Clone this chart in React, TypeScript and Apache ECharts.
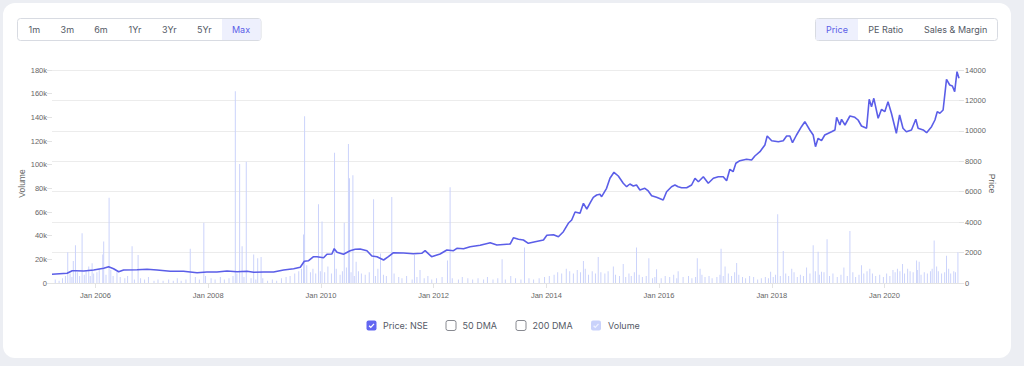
import React, { useEffect, useRef } from "react";
import * as echarts from "echarts";

// ---------- DATA ----------
const rangeButtons = ["1m", "3m", "6m", "1Yr", "3Yr", "5Yr", "Max"];
const metricButtons = ["Price", "PE Ratio", "Sales & Margin"];
const legendItems = ["Price: NSE", "50 DMA", "200 DMA", "Volume"];
const xTickYears = [2006, 2008, 2010, 2012, 2014, 2016, 2018, 2020];
const xMin = "2005-03-25";
const xMax = "2021-04-28";

const volumeTicks = { min: 0, max: 180000, interval: 20000 };
const priceTicks = { min: 0, max: 14000, interval: 2000 };

const priceNSE: [string, number][] = [
  ["2005-03-25", 572], ["2005-07-01", 638], ["2005-08-03", 808], ["2005-08-24", 808],
  ["2005-10-17", 789], ["2005-12-20", 854], ["2006-02-23", 966], ["2006-03-27", 1071],
  ["2006-04-28", 940], ["2006-05-31", 743], ["2006-07-02", 854], ["2006-09-27", 874],
  ["2006-12-01", 900], ["2007-02-04", 854], ["2007-04-30", 769], ["2007-07-25", 769],
  ["2007-10-21", 677], ["2007-12-24", 723], ["2008-02-27", 723], ["2008-05-02", 789],
  ["2008-07-06", 743], ["2008-09-09", 769], ["2008-10-22", 703], ["2008-12-26", 723],
  ["2009-02-28", 723], ["2009-05-04", 854], ["2009-07-08", 940], ["2009-08-20", 1032],
  ["2009-09-15", 1426], ["2009-10-13", 1466], ["2009-11-14", 1729], ["2009-12-06", 1729],
  ["2010-01-18", 1663], ["2010-02-09", 1886], ["2010-03-13", 1906], ["2010-03-28", 2255],
  ["2010-04-15", 2018], ["2010-05-27", 1886], ["2010-07-09", 2123], ["2010-08-11", 2215],
  ["2010-09-12", 2235], ["2010-10-26", 2123], ["2010-11-27", 1775], ["2010-12-30", 1729],
  ["2011-02-11", 1512], ["2011-03-14", 1729], ["2011-04-16", 1992], ["2011-06-20", 1972],
  ["2011-08-23", 1926], ["2011-10-16", 1952], ["2011-11-07", 2123], ["2011-12-19", 1729],
  ["2012-02-12", 1906], ["2012-03-27", 2169], ["2012-05-09", 2123], ["2012-05-31", 2281],
  ["2012-07-13", 2255], ["2012-08-25", 2386], ["2012-10-29", 2478], ["2013-01-02", 2649],
  ["2013-02-14", 2498], ["2013-05-11", 2563], ["2013-06-02", 2978], ["2013-07-04", 2872],
  ["2013-08-05", 2826], ["2013-09-06", 2609], ["2013-10-20", 2715], ["2013-12-13", 2826],
  ["2014-01-04", 3135], ["2014-02-16", 3175], ["2014-03-20", 3043], ["2014-04-21", 3372],
  ["2014-05-23", 3924], ["2014-06-14", 4141], ["2014-07-06", 4667], ["2014-08-07", 4581],
  ["2014-08-29", 5239], ["2014-09-20", 4864], ["2014-10-16", 5344], ["2014-11-01", 5633],
  ["2014-11-23", 5784], ["2014-12-14", 5830], ["2014-12-25", 5673], ["2015-01-26", 6225],
  ["2015-02-17", 6882], ["2015-03-15", 7276], ["2015-04-12", 7033], ["2015-05-14", 6553],
  ["2015-06-05", 6330], ["2015-06-26", 6507], ["2015-07-18", 6376], ["2015-08-08", 6442],
  ["2015-08-30", 6113], ["2015-10-01", 6225], ["2015-10-23", 6047], ["2015-11-14", 5738],
  ["2015-12-16", 5633], ["2016-01-28", 5456], ["2016-02-19", 6001], ["2016-03-22", 6330],
  ["2016-04-13", 6442], ["2016-05-04", 6330], ["2016-05-26", 6264], ["2016-06-28", 6264],
  ["2016-07-30", 6442], ["2016-08-21", 6882], ["2016-09-12", 6658], ["2016-10-14", 6987],
  ["2016-11-15", 6553], ["2016-12-18", 6882], ["2017-01-19", 6987], ["2017-02-20", 6987],
  ["2017-03-14", 6724], ["2017-04-04", 7473], ["2017-04-25", 7316], ["2017-05-13", 7868],
  ["2017-06-08", 8039], ["2017-07-21", 8131], ["2017-08-23", 8085], ["2017-09-13", 8348],
  ["2017-10-16", 8630], ["2017-11-17", 9071], ["2017-12-02", 9662], ["2017-12-31", 9353],
  ["2018-02-12", 9287], ["2018-03-16", 9353], ["2018-04-07", 9662], ["2018-04-28", 9662],
  ["2018-05-15", 9222], ["2018-06-10", 9728], ["2018-07-12", 10274], ["2018-08-03", 10602],
  ["2018-09-04", 10057], ["2018-09-26", 9728], ["2018-10-11", 8959], ["2018-10-28", 9511],
  ["2018-11-19", 9353], ["2018-12-10", 9728], ["2019-01-23", 9945], ["2019-02-14", 10057],
  ["2019-02-25", 10891], ["2019-03-18", 10385], ["2019-03-29", 10760], ["2019-04-20", 10385],
  ["2019-05-22", 10977], ["2019-06-23", 10891], ["2019-07-14", 10714], ["2019-08-05", 10320],
  ["2019-09-07", 10169], ["2019-09-24", 12075], ["2019-10-09", 11589], ["2019-10-24", 12140],
  ["2019-11-21", 10826], ["2019-12-13", 11417], ["2020-01-03", 11260], ["2020-01-24", 11917],
  ["2020-02-15", 11154], ["2020-03-18", 9840], ["2020-04-08", 11043], ["2020-04-30", 10169],
  ["2020-05-22", 9945], ["2020-06-24", 10057], ["2020-07-22", 10760], ["2020-08-06", 10169],
  ["2020-09-08", 10057], ["2020-09-30", 9879], ["2020-11-01", 10274], ["2020-11-23", 10714],
  ["2020-12-08", 11260], ["2020-12-25", 11154], ["2021-01-15", 11371], ["2021-02-06", 13389],
  ["2021-02-27", 13015], ["2021-03-16", 12949], ["2021-03-31", 12574], ["2021-04-15", 13889],
  ["2021-04-28", 13455],
];

// large volume spikes
const volumeSpikes: [string, number][] = [
  ["2005-07-05", 26000], ["2005-08-10", 18600], ["2005-08-24", 32000], ["2005-10-06", 42000],
  ["2005-11-18", 14000], ["2005-12-10", 16600], ["2006-02-17", 24000], ["2006-02-23", 35000],
  ["2006-03-30", 72000], ["2006-08-26", 31000], ["2006-10-04", 23700], ["2007-09-07", 29000],
  ["2007-12-04", 51000], ["2008-06-25", 162000], ["2008-07-23", 100500], ["2008-08-08", 31000],
  ["2008-09-04", 102500], ["2008-10-22", 24000], ["2008-11-17", 21000], ["2008-12-09", 22000],
  ["2009-09-10", 41000], ["2009-09-17", 141000], ["2009-12-16", 66500], ["2010-01-08", 52000],
  ["2010-03-30", 110000], ["2010-06-01", 51000], ["2010-06-28", 117500], ["2010-07-05", 88500],
  ["2010-07-27", 91000], ["2010-08-17", 18000], ["2010-12-08", 70700], ["2011-01-22", 25000],
  ["2011-04-05", 72700], ["2011-08-30", 23700], ["2011-10-05", 11000], ["2012-03-31", 19000],
  ["2012-04-17", 81000], ["2013-03-20", 20000], ["2013-08-12", 30000], ["2014-08-29", 18600],
  ["2014-12-03", 22000], ["2015-03-11", 14000], ["2015-05-14", 16000], ["2015-08-08", 30000],
  ["2015-10-27", 21000], ["2015-12-16", 11600], ["2016-05-04", 10000], ["2016-09-05", 21000],
  ["2016-09-23", 12000], ["2017-02-06", 29000], ["2017-03-04", 14000], ["2017-05-18", 17000],
  ["2017-12-24", 9600], ["2018-02-08", 58000], ["2018-03-16", 27000], ["2018-05-10", 12000],
  ["2018-08-14", 13000], ["2018-09-26", 32000], ["2018-10-28", 26500], ["2018-11-19", 9600],
  ["2018-12-25", 37000], ["2019-04-13", 13000], ["2019-05-22", 44000], ["2019-08-05", 15000],
  ["2019-09-28", 12000], ["2020-02-25", 11000], ["2020-04-27", 16000], ["2020-07-27", 19000],
  ["2020-08-13", 18000], ["2020-11-18", 36000], ["2020-12-04", 14000], ["2021-02-06", 23000],
  ["2021-03-25", 10000], ["2021-04-21", 26000],
];

// everyday small volume (thousands)
const volumeSmall: [string, number][] = [
  ["2005-04-15", 3], ["2005-05-10", 2], ["2005-06-01", 4], ["2005-06-20", 6], ["2005-07-20", 8],
  ["2005-08-01", 5], ["2005-09-05", 9], ["2005-09-20", 6], ["2005-10-20", 7], ["2005-11-01", 10],
  ["2005-11-28", 6], ["2005-12-20", 8], ["2006-01-10", 9], ["2006-01-25", 12], ["2006-03-10", 7],
  ["2006-04-10", 11], ["2006-04-25", 6], ["2006-05-20", 9], ["2006-06-10", 5], ["2006-07-10", 4],
  ["2006-07-28", 6], ["2006-09-10", 3], ["2006-10-20", 4], ["2006-11-15", 3], ["2006-12-10", 5],
  ["2007-01-15", 2], ["2007-02-10", 3], ["2007-03-15", 2], ["2007-04-20", 3], ["2007-05-20", 2],
  ["2007-06-15", 4], ["2007-07-10", 2], ["2007-08-10", 3], ["2007-10-10", 5], ["2007-11-05", 3],
  ["2007-12-15", 6], ["2008-01-20", 4], ["2008-02-15", 3], ["2008-03-20", 5], ["2008-04-15", 3],
  ["2008-05-15", 4], ["2008-06-10", 6], ["2008-07-05", 8], ["2008-08-20", 5], ["2008-10-05", 4],
  ["2008-11-05", 3], ["2008-12-20", 4], ["2009-01-20", 2], ["2009-02-20", 3], ["2009-03-20", 2],
  ["2009-04-20", 4], ["2009-05-20", 5], ["2009-06-15", 6], ["2009-07-15", 8], ["2009-08-10", 10],
  ["2009-08-28", 12], ["2009-10-01", 15], ["2009-10-25", 9], ["2009-11-10", 12], ["2009-11-28", 8],
  ["2009-12-28", 10], ["2010-01-25", 9], ["2010-02-15", 14], ["2010-03-10", 8], ["2010-04-10", 12],
  ["2010-05-05", 7], ["2010-05-20", 10], ["2010-06-15", 13], ["2010-07-15", 9], ["2010-08-05", 6],
  ["2010-09-01", 10], ["2010-09-20", 8], ["2010-10-15", 7], ["2010-11-10", 9], ["2010-12-20", 6],
  ["2011-01-05", 12], ["2011-02-10", 7], ["2011-03-01", 6], ["2011-04-20", 8], ["2011-05-20", 5],
  ["2011-06-10", 4], ["2011-07-10", 6], ["2011-08-15", 3], ["2011-09-15", 5], ["2011-11-01", 4],
  ["2011-11-25", 6], ["2011-12-20", 3], ["2012-01-20", 4], ["2012-02-25", 5], ["2012-05-01", 4],
  ["2012-06-10", 3], ["2012-07-05", 5], ["2012-08-10", 4], ["2012-09-10", 3], ["2012-10-15", 4],
  ["2012-11-20", 3], ["2012-12-15", 5], ["2013-01-20", 3], ["2013-02-20", 4], ["2013-04-10", 3],
  ["2013-05-15", 6], ["2013-06-15", 4], ["2013-07-20", 3], ["2013-09-10", 4], ["2013-10-10", 3],
  ["2013-11-15", 4], ["2013-12-20", 5], ["2014-01-20", 6], ["2014-02-20", 7], ["2014-03-15", 9],
  ["2014-04-10", 8], ["2014-05-10", 12], ["2014-06-01", 10], ["2014-06-25", 8], ["2014-07-20", 11],
  ["2014-08-10", 9], ["2014-09-10", 12], ["2014-10-01", 7], ["2014-10-25", 10], ["2014-11-15", 8],
  ["2014-12-20", 9], ["2015-01-15", 8], ["2015-02-05", 10], ["2015-03-25", 7], ["2015-04-20", 6],
  ["2015-05-30", 5], ["2015-06-20", 8], ["2015-07-05", 6], ["2015-07-25", 9], ["2015-08-25", 7],
  ["2015-09-15", 5], ["2015-10-10", 6], ["2015-11-20", 4], ["2015-12-05", 5], ["2016-01-15", 4],
  ["2016-02-10", 6], ["2016-03-10", 5], ["2016-04-05", 7], ["2016-04-25", 4], ["2016-06-05", 5],
  ["2016-07-10", 6], ["2016-08-01", 4], ["2016-08-25", 5], ["2016-10-05", 7], ["2016-10-25", 5],
  ["2016-11-20", 6], ["2016-12-10", 4], ["2017-01-10", 5], ["2017-01-30", 7], ["2017-02-20", 6],
  ["2017-03-25", 8], ["2017-04-15", 6], ["2017-05-05", 9], ["2017-06-01", 7], ["2017-06-25", 5],
  ["2017-07-15", 4], ["2017-08-10", 6], ["2017-09-05", 5], ["2017-10-01", 3], ["2017-10-25", 4],
  ["2017-11-20", 5], ["2017-12-10", 4], ["2018-01-10", 5], ["2018-01-25", 7], ["2018-02-25", 6],
  ["2018-04-01", 8], ["2018-04-20", 6], ["2018-05-25", 9], ["2018-06-15", 5], ["2018-07-05", 7],
  ["2018-07-25", 6], ["2018-09-05", 8], ["2018-10-10", 10], ["2018-11-05", 7], ["2018-12-05", 9],
  ["2019-01-10", 6], ["2019-02-01", 8], ["2019-03-01", 5], ["2019-03-25", 7], ["2019-05-05", 6],
  ["2019-06-10", 9], ["2019-06-28", 5], ["2019-07-20", 7], ["2019-08-20", 8], ["2019-09-10", 10],
  ["2019-10-15", 8], ["2019-11-05", 6], ["2019-12-01", 7], ["2019-12-25", 5], ["2020-01-15", 8],
  ["2020-02-05", 6], ["2020-03-10", 9], ["2020-03-25", 12], ["2020-04-10", 10], ["2020-05-10", 8],
  ["2020-05-30", 12], ["2020-06-15", 10], ["2020-07-05", 9], ["2020-08-01", 11], ["2020-08-25", 7],
  ["2020-09-15", 9], ["2020-10-05", 8], ["2020-10-25", 10], ["2020-11-05", 12], ["2020-12-15", 10],
  ["2021-01-05", 8], ["2021-01-25", 9], ["2021-02-20", 12], ["2021-03-05", 8], ["2021-04-05", 9],
];

// ---------- STYLE ----------
const PURPLE = "#5b5ee8";
const VOL = "#cbd3fb";
const AXIS_FONT = "'Liberation Sans', Arial, sans-serif";
const UI_FONT = "Inter, 'Noto Sans', sans-serif";

function ts(d: string): number {
  const [y, m, day] = d.split("-").map(Number);
  return new Date(y, m - 1, day).getTime();
}

function buildGraphic() {
  const g: any[] = [];
  // left range group
  g.push({ type: "rect", shape: { x: 17.5, y: 18.5, width: 243.5, height: 22, r: 3 }, style: { fill: "#fff", stroke: "#d8dbe2", lineWidth: 1 }, z: 10 });
  g.push({ type: "rect", shape: { x: 222, y: 19, width: 38.5, height: 21 }, style: { fill: "#eef0fd" }, z: 11 });
  const rx = [34.3, 67.3, 101, 135, 169.3, 204.3, 241];
  rangeButtons.forEach((t, i) => {
    g.push({
      type: "text", x: rx[i], y: 29.5, z: 12,
      style: { text: t, fill: i === 6 ? "#5b5ee8" : "#555a66", font: `9px ${UI_FONT}`, align: "center", verticalAlign: "middle" },
    });
  });
  // right metric group
  g.push({ type: "rect", shape: { x: 815.5, y: 18.5, width: 182, height: 22, r: 3 }, style: { fill: "#fff", stroke: "#d8dbe2", lineWidth: 1 }, z: 10 });
  g.push({ type: "rect", shape: { x: 816, y: 19, width: 42, height: 21 }, style: { fill: "#eef0fd" }, z: 11 });
  const mx = [837, 885.7, 955.7];
  metricButtons.forEach((t, i) => {
    g.push({
      type: "text", x: mx[i], y: 29.5, z: 12,
      style: { text: t, fill: i === 0 ? "#5b5ee8" : "#555a66", font: `9px ${UI_FONT}`, align: "center", verticalAlign: "middle" },
    });
  });
  // legend
  const boxX = [366.5, 446, 516, 591];
  const textX = [383, 462.5, 532.5, 608];
  legendItems.forEach((t, i) => {
    const bx = boxX[i];
    const by = 320.5;
    if (i === 0) {
      g.push({ type: "rect", shape: { x: bx, y: by, width: 10, height: 10, r: 2 }, style: { fill: "#6366f1" }, z: 10 });
      g.push({ type: "polyline", shape: { points: [[bx + 2.6, by + 5.2], [bx + 4.3, by + 6.9], [bx + 7.5, by + 3.4]] }, style: { stroke: "#fff", lineWidth: 1.3, fill: null }, z: 11 });
    } else if (i === 3) {
      g.push({ type: "rect", shape: { x: bx, y: by, width: 10, height: 10, r: 2 }, style: { fill: "#c9d2fb" }, z: 10 });
      g.push({ type: "polyline", shape: { points: [[bx + 2.6, by + 5.2], [bx + 4.3, by + 6.9], [bx + 7.5, by + 3.4]] }, style: { stroke: "#eef1ff", lineWidth: 1.3, fill: null }, z: 11 });
    } else {
      g.push({ type: "rect", shape: { x: bx, y: by, width: 10, height: 10, r: 2 }, style: { fill: "#fff", stroke: "#7a7d85", lineWidth: 0.9 }, z: 10 });
    }
    g.push({ type: "text", x: textX[i], y: 325.5, z: 12, style: { text: t, fill: "#555a66", font: `9px ${UI_FONT}`, verticalAlign: "middle" } });
  });
  return g;
}

export default function App() {
  const ref = useRef<HTMLDivElement>(null);
  useEffect(() => {
    if (!ref.current) return;
    const chart = echarts.init(ref.current, undefined, { renderer: "svg" });
    const tickVals = xTickYears.map((y) => new Date(y, 0, 1).getTime());
    const volumeData = [
      ...volumeSmall.map(([d, v]) => [ts(d), v * 1000]),
      ...volumeSpikes.map(([d, v]) => [ts(d), v]),
    ].sort((a, b) => a[0] - b[0]);
    const priceData = priceNSE.map(([d, v]) => [ts(d), v]);
    chart.setOption({
      animation: false,
      grid: { left: 52, right: 65, top: 70, bottom: 83, containLabel: false },
      xAxis: {
        type: "value",
        min: ts(xMin),
        max: ts(xMax),
        axisLine: { show: true, lineStyle: { color: "#e3e3e3" } },
        axisTick: { show: true, length: 5, lineStyle: { color: "#e3e3e3" }, customValues: tickVals },
        splitLine: { show: false },
        axisLabel: {
          customValues: tickVals,
          formatter: (v: number) => "Jan " + new Date(v).getFullYear(),
          color: "#666",
          fontSize: 7.5,
          fontFamily: AXIS_FONT,
          margin: 8,
        },
      },
      yAxis: [
        {
          type: "value",
          position: "left",
          ...volumeTicks,
          name: "Volume",
          nameLocation: "middle",
          nameGap: 26,
          nameMoveOverlap: false,
          nameRotate: 90,
          nameTextStyle: { color: "#666", fontSize: 8.5, fontFamily: AXIS_FONT, padding: [0, 14, 0, 0] },
          axisLine: { show: false },
          axisTick: { show: true, length: 5, lineStyle: { color: "#e3e3e3" } },
          splitLine: { show: false },
          axisLabel: {
            formatter: (v: number) => (v === 0 ? "0" : v / 1000 + "k"),
            color: "#666",
            fontSize: 7.5,
            fontFamily: AXIS_FONT,
            margin: 5,
          },
        },
        {
          type: "value",
          position: "right",
          ...priceTicks,
          name: "Price",
          nameLocation: "middle",
          nameGap: 28,
          nameMoveOverlap: false,
          nameRotate: -90,
          nameTextStyle: { color: "#666", fontSize: 8.5, fontFamily: AXIS_FONT, padding: [0, 0, 0, 14] },
          axisLine: { show: false },
          axisTick: { show: true, length: 5, lineStyle: { color: "#e3e3e3" } },
          splitLine: { show: true, lineStyle: { color: "#ececec" } },
          axisLabel: {
            formatter: (v: number) => String(v),
            color: "#666",
            fontSize: 7.5,
            fontFamily: AXIS_FONT,
            margin: 6,
          },
        },
      ],
      series: [
        {
          name: "Volume",
          type: "bar",
          yAxisIndex: 0,
          data: volumeData,
          barWidth: 1,
          itemStyle: { color: VOL },
          z: 1,
        },
        {
          name: "Price: NSE",
          type: "line",
          yAxisIndex: 1,
          data: priceData,
          showSymbol: false,
          lineStyle: { color: PURPLE, width: 1.6 },
          z: 3,
        },
      ],
      graphic: buildGraphic(),
    });
    return () => chart.dispose();
  }, []);

  return (
    <div style={{ position: "fixed", left: 0, top: 0, width: 1024, height: 366, background: "#eceef3", overflow: "hidden" }}>
      <div style={{ position: "absolute", left: 3, top: 3, width: 1008, height: 355, background: "#fff", borderRadius: 12 }} />
      <div ref={ref} style={{ position: "absolute", left: 0, top: 0, width: 1024, height: 366 }} />
    </div>
  );
}
